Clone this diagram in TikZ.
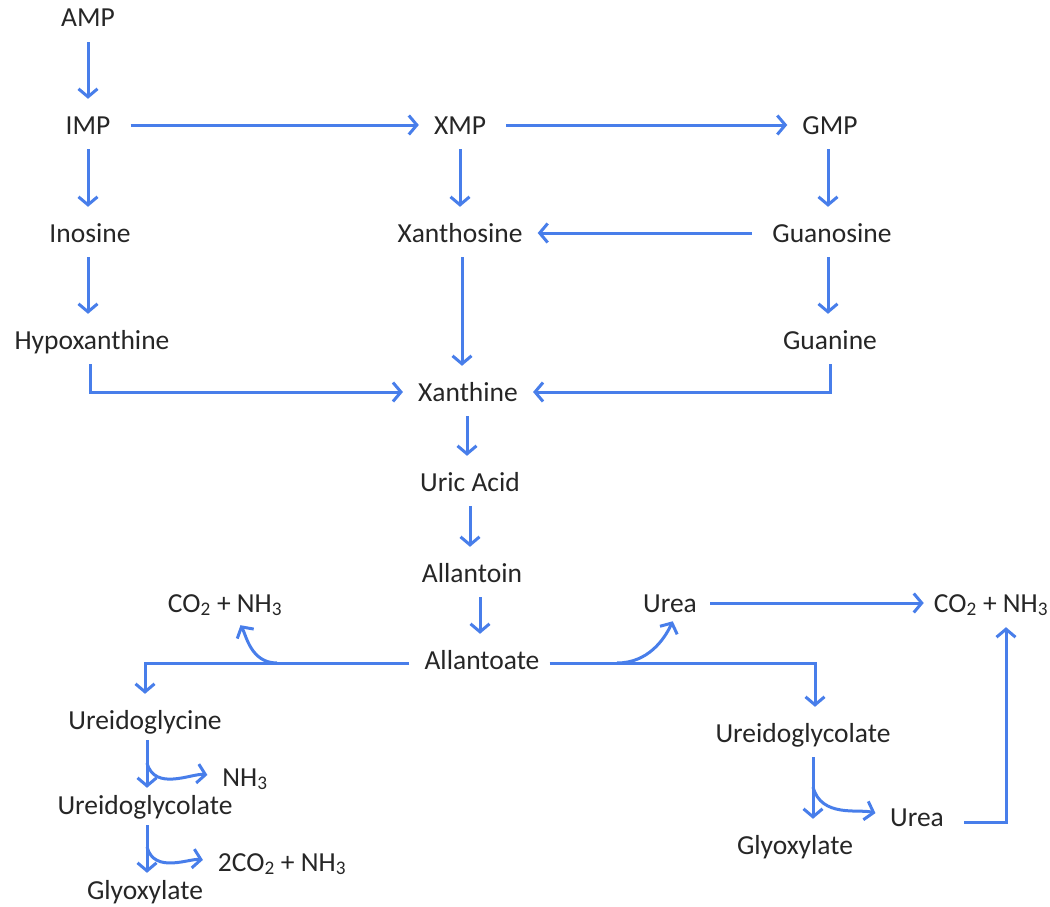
\documentclass[tikz,border=0pt]{standalone}
\usepackage{fontspec}
\setmainfont{Carlito}
\usetikzlibrary{arrows.meta}
\definecolor{pathblue}{RGB}{72,126,234}
\newcommand{\cotwo}{CO\textsubscript{2}}
\newcommand{\nhthree}{NH\textsubscript{3}}
\begin{document}
\begin{tikzpicture}[x=1pt,y=-1pt,
    met/.style={inner sep=0pt,text height=18pt,text depth=0pt,
      font=\fontsize{27.5}{32}\selectfont,text=black!85},
    flow/.style={draw=pathblue,line width=3pt,
      -{Straight Barb[length=8pt,width=19pt]},
      shorten <=15pt,shorten >=17pt},
    hflow/.style={flow,shorten <=20pt,shorten >=15pt},
    branch/.style={draw=pathblue,line width=3pt,
      -{Straight Barb[length=8pt,width=19pt]},shorten >=15pt} ]
    \useasboundingbox (0,0) rectangle (1050,907);
    % purine nucleotides
    \node at (88,18) [met] (amp) {AMP};
    \node at (88,125) [met] (imp) {IMP};
    \node at (460,125) [met] (xmp) {XMP};
    \node at (830,125) [met] (gmp) {GMP};
    \node at (90,233) [met] (ino) {Inosine};
    \node at (460,233) [met] (xao) {Xanthosine};
    \node at (832,233) [met] (guo) {Guanosine};
    \node at (92,340) [met] (hyp) {Hypoxanthine};
    \node at (830,340) [met] (gua) {Guanine};
    \node at (468,392) [met] (xan) {Xanthine};
    \node at (470,482) [met] (uric) {Uric Acid};
    \node at (472,573) [met] (alln) {Allantoin};
    \node at (482,660) [met] (allt) {Allantoate};
    % allantoate branches
    \node at (225,603) [met] (co2a) {\cotwo{} + \nhthree};
    \node at (670,603) [met] (ureaa) {Urea};
    \node at (991,603) [met] (co2b) {\cotwo{} + \nhthree};
    \node at (145,720) [met] (ugly) {Ureidoglycine};
    \node at (245,777) [met] (nh3) {\nhthree};
    \node at (145,805) [met] (uglca) {Ureidoglycolate};
    \node at (282,862) [met] (co2c) {2\cotwo{} + \nhthree};
    \node at (145,890) [met] (glya) {Glyoxylate};
    \node at (803,733) [met] (uglcb) {Ureidoglycolate};
    \node at (917,817) [met] (ureab) {Urea};
    \node at (795,845) [met] (glyb) {Glyoxylate};
    \coordinate (brl) at (277,663);
    \coordinate (brr) at (617,663);
    \coordinate (br1) at (147,763);
    \coordinate (br2) at (147,847);
    \coordinate (br3) at (813,787);
    \draw [flow] (amp) to (imp);
    \draw [hflow] (imp) to (xmp);
    \draw [hflow] (xmp) to (gmp);
    \draw [flow] (imp.south) to (imp.south |- ino.north);
    \draw [flow] (xmp) to (xao);
    \draw [flow] ([xshift=-2pt]gmp.south) to ([xshift=-2pt]gmp.south |- guo.north);
    \draw [hflow] (guo) to (xao);
    \draw [flow] ([xshift=-2pt]ino.south) to ([xshift=-2pt]ino.south |- hyp.north);
    \draw [flow] ([xshift=2pt]xao.south) to ([xshift=2pt]xao.south |- xan.north);
    \draw [flow] ([xshift=-4pt]guo.south) to ([xshift=-4pt]guo.south |- gua.north);
    \draw [hflow,shorten <=15pt] ([xshift=-2pt]hyp.south) |- (xan.west);
    \draw [hflow,shorten <=15pt] (gua.south) |- (xan.east);
    \draw [flow] ([xshift=-1pt]xan.south) to ([xshift=-1pt]xan.south |- uric.north);
    \draw [flow] (uric) to (uric |- alln.north);
    \draw [flow] ([xshift=8pt]alln.south) to ([xshift=-2pt]allt.north);
    \draw [flow] ([yshift=-3pt]allt.west) -| (ugly.north);
    \draw [flow,shorten <=10pt] ([yshift=-3pt]allt.east) -| ([xshift=12pt]uglcb.north);
    \draw [branch] (brl) to[out=180,in=-60] ([xshift=8pt]co2a.south);
    \draw [branch,shorten >=10pt] (brr) to[out=0,in=-115] ([xshift=7pt]ureaa.south);
    \draw [hflow,shorten <=13pt,shorten >=10pt] (ureaa) to (co2b);
    \draw [hflow,shorten >=15pt] ([yshift=-5pt]ureab.east) -| ([xshift=15pt]co2b.south);
    % short steps on the left
    \draw [flow,shorten <=11pt,shorten >=8pt] ([xshift=2pt]ugly.south) to ([xshift=2pt]ugly.south |- uglca.north);
    \draw [branch] (br1) to[out=-75,in=172] (nh3.west);
    \draw [flow,shorten <=11pt,shorten >=8pt] ([xshift=2pt]uglca.south) to ([xshift=2pt]uglca.south |- glya.north);
    \draw [branch] (br2) to[out=-75,in=172] (co2c.west);
    \draw [flow] ([xshift=10pt]uglcb.south) to ([xshift=10pt]uglcb.south |- glyb.north);
    \draw [branch] (br3) to[out=-75,in=165] (ureab.west);
\end{tikzpicture}
\end{document}
